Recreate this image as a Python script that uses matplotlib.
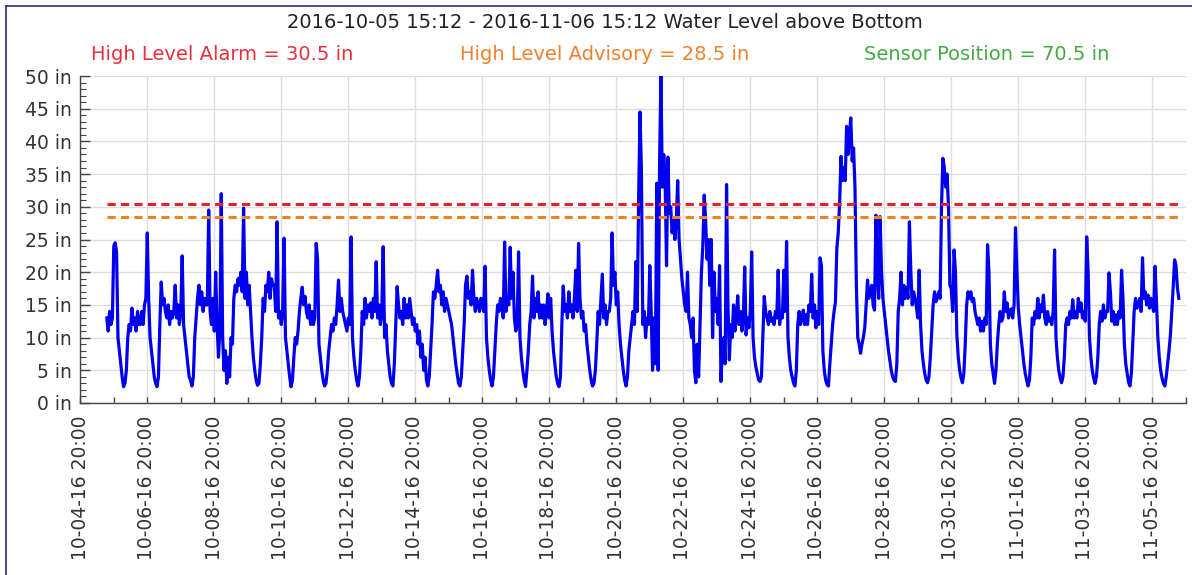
import matplotlib
matplotlib.use("Agg")
import matplotlib.pyplot as plt
import matplotlib.dates as mdates
import pandas as pd
from matplotlib.lines import Line2D

# hourly readings, one row per day starting 15:12
start = "2016-10-05 15:12"
level_by_day = [
    [13, 11, 14, 12, 13, 24, 24.5, 23, 10, 8, 6, 4, 2.5, 3, 5, 10, 12, 11, 14.5, 12, 13, 11, 14, 12],
    [12, 14, 12, 15, 16, 26, 16, 10, 8, 6, 4, 3, 2.5, 4, 12, 18.5, 15, 16, 14, 13, 15, 12, 14, 13],
    [14, 18, 13, 15, 12, 14, 22.5, 12, 10, 8, 6, 4, 3.5, 2.6, 4, 10, 13, 16, 18, 15, 17, 14, 16, 15],
    [15, 29.5, 14, 12, 16, 11, 20, 12, 7, 11, 32, 10, 5, 8, 3, 7, 4, 10, 9, 16, 18, 17, 19, 18],
    [20, 17, 29.8, 16, 20, 15, 18, 14, 10, 7, 5, 3.5, 2.7, 3, 6, 10, 16, 14, 18, 17, 20, 16, 19, 18],
    [18, 14, 27.7, 13, 14, 12, 14, 25.2, 10, 8, 6, 4, 2.5, 3.5, 7, 10, 9, 11, 14, 16, 17.7, 15, 16.3, 14],
    [13, 15, 12, 14, 12, 13, 24.4, 22, 9, 7, 5, 3.5, 2.6, 3, 5, 8, 10, 12, 11, 13, 12, 15, 18.8, 14],
    [16, 14, 13, 12, 11, 13, 12, 25.4, 10, 7, 5, 3.5, 2.6, 4, 8, 14, 12, 16, 13, 15, 14, 15.3, 13, 16],
    [14, 21.6, 13, 15, 12, 14, 23.9, 10, 12, 8, 6, 4, 3, 2.6, 6, 12, 17.8, 15, 13, 14, 12, 16, 13, 15],
    [13, 16, 14, 12, 13, 11, 12, 9, 11, 7, 9, 5, 7, 3.5, 2.6, 4, 8, 12, 17, 16, 18, 20.3, 17, 18],
    [15, 17, 14, 16, 15, 14, 13, 12, 10, 8, 6, 4.5, 3, 2.6, 4, 8, 12, 18, 19.4, 16, 17, 15, 20.3, 16],
    [14, 16, 15, 14, 16, 15, 14, 20.9, 10, 7, 5, 3.5, 2.6, 4, 8, 12, 15, 14, 16, 15, 13, 24.6, 14, 16],
    [15, 23.8, 16, 20, 13, 11, 12, 23.1, 10, 7, 5, 3.5, 2.5, 5, 8, 12, 14, 19.4, 13, 16, 14, 17, 13, 15],
    [13, 15, 12, 14, 16.7, 13, 16, 11, 8, 6, 4, 3, 2.5, 4, 12, 17.9, 14, 15, 13, 17, 14, 15, 13, 16],
    [20.3, 14, 24.4, 16, 13, 14, 11, 12, 9, 7, 5, 3.5, 2.6, 3, 5, 9, 14, 12, 16, 19.7, 13, 15, 12, 14],
    [14, 16, 26, 18, 20, 15, 17, 12, 9, 7, 5, 3.5, 2.6, 4, 8, 10, 12, 14, 12, 21.6, 14, 31, 44.5, 35.6],
    [12, 14, 10, 13, 12, 21, 14, 5, 13, 6, 33.6, 5, 36.6, 50, 33, 38, 34, 21, 37.6, 29, 30, 26, 28, 25],
    [28, 34, 25, 22, 19, 17, 15, 14, 20, 13, 12, 10, 13, 5, 3.1, 9, 4, 12, 20, 24, 31.8, 28, 22, 25],
    [18, 25, 10, 20, 14, 16, 12, 21, 3.3, 8, 10, 6, 33.4, 15, 6.6, 12, 10, 15, 11, 13, 16.4, 12, 14, 11],
    [13, 20.8, 10.4, 13, 11.5, 14, 23.1, 10, 7, 5.5, 4.5, 3.5, 3.3, 4, 10, 16.3, 14, 13, 12, 14, 12.5, 13, 12, 14],
    [13, 20.3, 12, 14, 13, 20.3, 14, 24.7, 10, 7, 5, 4, 3, 2.6, 5, 12, 14, 12, 13, 14.2, 12, 13.5, 12, 15],
    [14, 19.7, 13, 15, 11.5, 14, 12, 22.2, 21, 8, 5, 3.5, 2.8, 2.6, 6, 9, 12, 14, 15.4, 23.6, 26, 30.5, 37.7, 34],
    [36, 34, 42.3, 38, 41, 43.6, 37, 39, 33, 18, 10, 9, 7.6, 9, 10, 11.5, 15, 18.8, 16, 17, 18, 15, 14.2, 28.7],
    [20, 16, 28.5, 20.3, 16, 14, 12, 10, 8, 6.5, 5, 4, 3.5, 3.3, 6, 14, 16, 20, 15, 18, 16, 17.6, 16, 27.7],
    [20.3, 15, 17, 16, 14.7, 13, 20.3, 12, 8, 6, 4.5, 3.5, 3.1, 4, 7, 11, 15, 17, 15.5, 16, 17, 16, 30, 37.4],
    [36, 33, 35, 30, 18, 17.5, 14, 23.4, 20, 10.4, 7, 5, 3.8, 3.1, 4.5, 9, 15, 17, 16, 17, 15.5, 16, 14, 13],
    [12, 13, 11, 12.5, 11, 13, 12, 24.2, 20, 9, 6, 4.5, 3.0, 5, 9, 12, 14, 12.5, 13, 17, 14, 15.3, 13, 14],
    [14.4, 13, 15, 26.8, 20.3, 14.6, 12, 10, 8, 6, 4.5, 3.5, 2.6, 3.5, 7, 13, 12, 14, 13, 16, 13, 15, 14, 16.5],
    [13, 12, 14, 12.5, 13, 12, 14, 23.4, 10, 7, 5, 3.8, 3.1, 4, 7, 12, 13, 12, 14, 13, 15.8, 13, 14, 13],
    [16, 14, 15.3, 13, 14, 12.5, 25.4, 20.3, 10, 7, 5, 3.8, 3.0, 4, 7, 12, 14, 12.5, 15, 13, 14, 14, 19.9, 17],
    [12.5, 14, 12, 13.5, 12, 14, 13, 20.3, 16, 9, 6, 4.5, 3.2, 2.6, 4.5, 9, 14, 16, 14.5, 15, 16, 14, 22.2, 16],
    [17, 15, 16.5, 14.5, 16, 15, 14, 20.9, 15.3, 10, 7, 5, 3.8, 3, 2.6, 4, 6, 8, 10.4, 14, 17.8, 21.9, 21, 17.6],
]
last_level = 16

alarm = 30.5
advisory = 28.5
sensor = 70.5
title = "2016-10-05 15:12 - 2016-11-06 15:12 Water Level above Bottom"

levels = [v for day in level_by_day for v in day] + [last_level]
times = pd.date_range(start, periods=len(levels), freq="h")

W, H = 1192, 575
fig = plt.figure(figsize=(W / 100, H / 100), dpi=100)
fig.patch.set_facecolor("white")
ax = fig.add_axes([80 / W, 1 - 403 / H, 1105.5 / W, 327 / H])

ax.plot(times, levels, color="#0000ee", lw=2.3, zorder=2)
ax.plot([times[0], times[-1]], [alarm, alarm], color="#e8202a", lw=2.2,
        ls=(0, (2.7, 1.7)), zorder=3)
ax.plot([times[0], times[-1]], [advisory, advisory], color="#f08020", lw=2.2,
        ls=(0, (2.7, 1.7)), zorder=3)

ax.set_xlim(pd.Timestamp("2016-10-04 20:00"), pd.Timestamp("2016-11-06 20:00"))
ax.set_ylim(0, 50)

ax.set_xticks(pd.date_range("2016-10-04 20:00", "2016-11-05 20:00", freq="2D"))
ax.set_xticks(pd.date_range("2016-10-04 20:00", "2016-11-06 20:00", freq="D"), minor=True)
ax.xaxis.set_major_formatter(mdates.DateFormatter("%m-%d-%y %H:%M"))
yt = list(range(0, 51, 5))
ax.set_yticks(yt)
ax.set_yticklabels([f"{v} in" for v in yt])
ax.set_yticks(range(0, 51), minor=True)

ax.grid(which="major", color="#dedede", lw=1.0)
ax.set_axisbelow(True)
for s in ["top", "right"]:
    ax.spines[s].set_visible(False)
for s in ["left", "bottom"]:
    ax.spines[s].set_color("#444444")
    ax.spines[s].set_linewidth(1.0)

ax.tick_params(axis="y", which="major", direction="in", length=7, width=1,
               color="#444444", labelsize=13.5, labelcolor="#333333", pad=6)
ax.tick_params(axis="y", which="minor", direction="in", length=4, width=0.8,
               color="#444444")
ax.tick_params(axis="x", which="both", direction="in", length=4, width=1,
               color="#444444")
ax.tick_params(axis="x", which="major", labelsize=13.5, labelcolor="#333333",
               labelrotation=90, pad=9)

fig.text(605 / W, 1 - 22 / H, title, ha="center", va="center", fontsize=14,
         color="#222222")
fig.text(222 / W, 1 - 55 / H, f"High Level Alarm = {alarm} in", ha="center",
         va="center", fontsize=14, color="#e8303c")
fig.text(605 / W, 1 - 55 / H, f"High Level Advisory = {advisory} in", ha="center",
         va="center", fontsize=14, color="#f0812e")
fig.text(987 / W, 1 - 55 / H, f"Sensor Position = {sensor} in", ha="center",
         va="center", fontsize=14, color="#44aa44")

# outer frame (left and top edges visible)
fig.add_artist(Line2D([5.5 / W, 5.5 / W], [0, 1 - 5.5 / H], color="#2b2b7a", lw=1.2))
fig.add_artist(Line2D([5.5 / W, 1], [1 - 5.5 / H, 1 - 5.5 / H], color="#2b2b7a", lw=1.2))

fig.savefig("out.png", dpi=100)
